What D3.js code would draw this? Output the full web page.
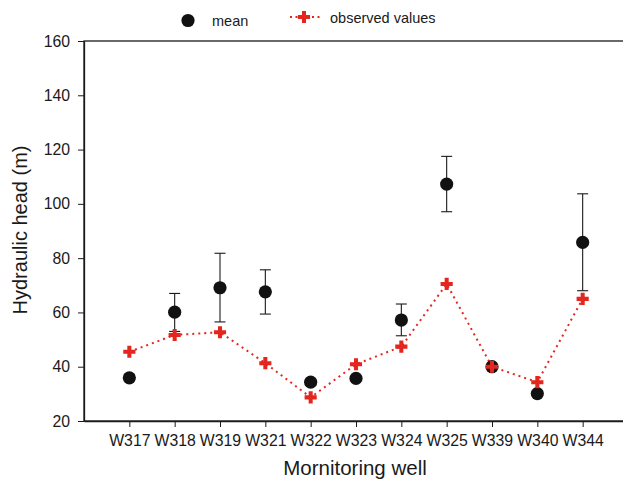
<!DOCTYPE html>
<html>
<head>
<meta charset="utf-8">
<script src="https://cdn.jsdelivr.net/npm/d3@7"></script>
<style>
    html, body { margin: 0; padding: 0; background: #fff; }
    svg { display: block; font-family: "Liberation Sans", Arial, sans-serif; }
</style>
</head>
<body>
<svg id="chart"></svg>
<script>
// ── Hydraulic head by monitoring well ───────────────────────────────────────
(function () {
    'use strict';

    const W = 623, H = 481;

    // Wells along the x axis
    const WELLS = ['W317', 'W318', 'W319', 'W321', 'W322', 'W323', 'W324', 'W325', 'W339', 'W340', 'W344'];

    // Mean hydraulic head (m) with error bar ends
    const MEAN    = [35.9, 60.1, 69.1, 67.6, 34.3, 35.7, 57.2, 107.3, 40.0, 30.1, 85.8];
    const ERR_LOW = [34.8, 53.0, 56.5, 59.4, 33.2, 34.9, 51.4,  97.1, 39.3, 29.2, 68.0];
    const ERR_HI  = [37.0, 67.0, 81.8, 75.7, 35.4, 36.5, 63.1, 117.5, 40.7, 31.0, 103.7];

    // Observed values (m)
    const OBSERVED = [45.5, 51.7, 52.7, 41.3, 28.7, 40.9, 47.4, 70.5, 40.0, 34.3, 65.0];

    const Y_TICKS = [20, 40, 60, 80, 100, 120, 140, 160];

    const RED = '#e3261e';
    const INK = '#1a1a1a';

    const margin = { left: 84, top: 41, right: 628, bottom: 421 };

    const svg = d3.select('#chart').attr('width', W).attr('height', H);

    const x = d3.scalePoint()
        .domain(WELLS)
        .range([margin.left, margin.right])
        .padding(1);

    const y = d3.scaleLinear()
        .domain([20, 160])
        .range([margin.bottom, margin.top]);

    // Frame
    svg.append('rect')
        .attr('x', margin.left).attr('y', margin.top)
        .attr('width', margin.right - margin.left)
        .attr('height', margin.bottom - margin.top)
        .attr('fill', 'none').attr('stroke', INK).attr('stroke-width', 1.3);

    // Axes
    const xAxis = svg.append('g')
        .attr('transform', 'translate(0,' + margin.bottom + ')')
        .call(d3.axisBottom(x).tickSize(6).tickPadding(8).tickSizeOuter(0));
    const yAxis = svg.append('g')
        .attr('transform', 'translate(' + margin.left + ',0)')
        .call(d3.axisLeft(y).tickValues(Y_TICKS).tickSize(6).tickPadding(8).tickSizeOuter(0));

    [xAxis, yAxis].forEach(function (g) {
        g.select('.domain').attr('stroke', INK).attr('stroke-width', 1.3);
        g.selectAll('.tick line').attr('stroke', INK).attr('stroke-width', 1);
        g.selectAll('.tick text').attr('fill', INK).attr('font-size', 15.8)
            .attr('font-family', '"Liberation Sans", Arial, sans-serif');
    });

    // Axis titles
    svg.append('text')
        .attr('x', x.range()[0] + (x.range()[1] - x.range()[0]) / 2 - 1)
        .attr('y', 475)
        .attr('text-anchor', 'middle')
        .attr('font-size', 20.5).attr('fill', INK)
        .text('Mornitoring well');

    svg.append('text')
        .attr('transform', 'translate(26.5,230) rotate(-90)')
        .attr('text-anchor', 'middle')
        .attr('font-size', 20).attr('fill', INK)
        .text('Hydraulic head (m)');

    // Observed values: dotted line
    const line = d3.line()
        .x(function (d, i) { return x(WELLS[i]); })
        .y(function (d) { return y(d); });

    svg.append('path')
        .datum(OBSERVED)
        .attr('d', line)
        .attr('fill', 'none')
        .attr('stroke', RED)
        .attr('stroke-width', 2)
        .attr('stroke-dasharray', '2,4');

    // Error bars
    const eb = svg.append('g').attr('stroke', INK).attr('stroke-width', 1.1);
    WELLS.forEach(function (w, i) {
        const cx = x(w);
        eb.append('line').attr('x1', cx).attr('x2', cx).attr('y1', y(ERR_LOW[i])).attr('y2', y(ERR_HI[i]));
        eb.append('line').attr('x1', cx - 5.5).attr('x2', cx + 5.5).attr('y1', y(ERR_LOW[i])).attr('y2', y(ERR_LOW[i]));
        eb.append('line').attr('x1', cx - 5.5).attr('x2', cx + 5.5).attr('y1', y(ERR_HI[i])).attr('y2', y(ERR_HI[i]));
    });

    // Means
    svg.append('g').selectAll('circle')
        .data(MEAN)
        .enter()
        .append('circle')
        .attr('cx', function (d, i) { return x(WELLS[i]); })
        .attr('cy', function (d) { return y(d); })
        .attr('r', 6.6)
        .attr('fill', '#111');

    // Observed values: plus markers
    const plus = d3.symbol().type(d3.symbolCross).size(82);
    svg.append('g').selectAll('path')
        .data(OBSERVED)
        .enter()
        .append('path')
        .attr('d', plus)
        .attr('transform', function (d, i) { return 'translate(' + x(WELLS[i]) + ',' + y(d) + ')'; })
        .attr('fill', RED);

    // Legend
    const lg = svg.append('g');
    lg.append('circle').attr('cx', 188).attr('cy', 20.5).attr('r', 6.6).attr('fill', '#111');
    lg.append('text').attr('x', 212).attr('y', 26).attr('font-size', 14.5).attr('fill', INK).text('mean');
    lg.append('line')
        .attr('x1', 290).attr('x2', 320).attr('y1', 17).attr('y2', 17)
        .attr('stroke', RED).attr('stroke-width', 2).attr('stroke-dasharray', '2,3.5');
    lg.append('path').attr('d', plus).attr('transform', 'translate(304,17)').attr('fill', RED);
    lg.append('text').attr('x', 330).attr('y', 22.5).attr('font-size', 14.5).attr('fill', INK).text('observed values');
})();
</script>
</body>
</html>
